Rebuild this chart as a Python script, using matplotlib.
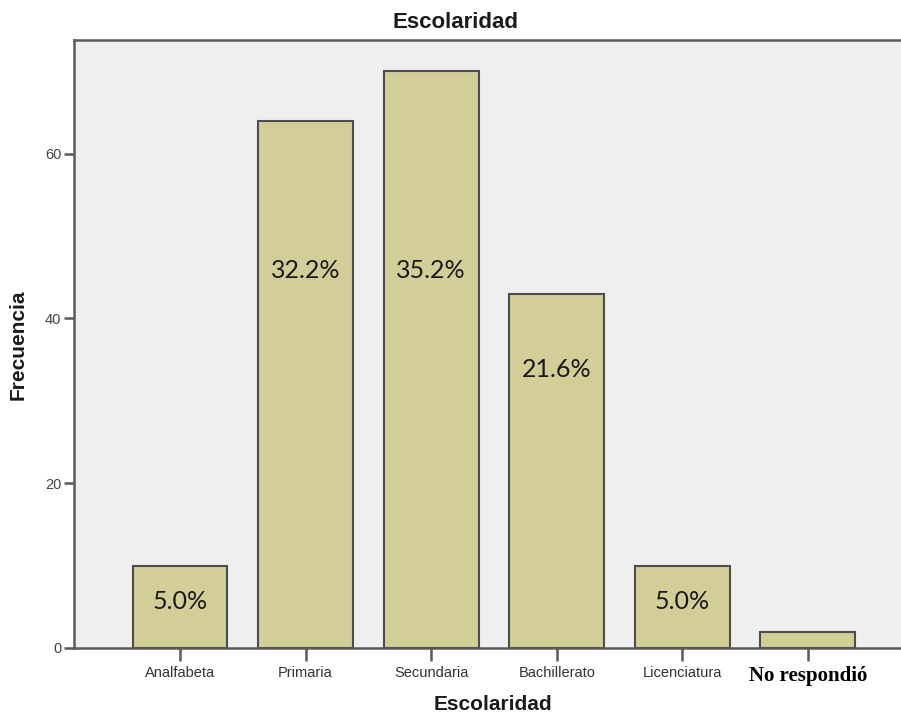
import matplotlib.pyplot as plt
import numpy as np

categorias = ['Analfabeta', 'Primaria', 'Secundaria', 'Bachillerato',
              'Licenciatura', 'No respondió']
frecuencia = [10, 64, 70, 43, 10, 2]
# altura (en unidades del eje) donde va cada porcentaje; None = sin etiqueta
pos_etiqueta = [5.7, 45.8, 45.8, 33.8, 5.7, None]

porcentaje = [round(f / sum(frecuencia) * 100, 1) for f in frecuencia]
x = np.arange(len(categorias))

fig = plt.figure(figsize=(9.01, 7.18), dpi=100)
ax = fig.add_axes([0.0821, 0.0975, 0.9323, 0.8468])
ax.set_facecolor('#efefef')

ax.bar(x, frecuencia, width=0.756, color='#d3ce97', edgecolor='#4d4d4d',
       linewidth=1.5, zorder=2)

for xi, yi, p in zip(x, pos_etiqueta, porcentaje):
    if yi is None:
        continue
    ax.text(xi, yi, '%.1f%%' % p, ha='center', va='center',
            fontsize=18, family='Lato', color='#1a1a1a', zorder=3)

ax.set_xlim(-0.844, 5.844)
ax.set_ylim(0, 73.8)
ax.set_yticks([0, 20, 40, 60])
ax.set_xticks(x)
ax.set_xticklabels(categorias)

for s in ['left', 'top', 'bottom']:
    ax.spines[s].set_color('#5a5a5a')
    ax.spines[s].set_linewidth(1.8)
ax.spines['right'].set_visible(False)

ax.tick_params(axis='y', direction='out', length=7, width=1.8, color='#5a5a5a',
               labelsize=10.5, labelcolor='#444444', pad=2)
ax.tick_params(axis='x', direction='out', length=9, width=1.8, color='#5a5a5a',
               labelsize=10.5, labelcolor='#333333', pad=4)
for lab in ax.get_xticklabels() + ax.get_yticklabels():
    lab.set_family('Liberation Sans')

ultima = ax.get_xticklabels()[-1]
ultima.set_family('Liberation Serif')
ultima.set_fontweight('bold')
ultima.set_fontsize(15)
ultima.set_color('black')

fig.text(456 / 901, 1 - 22 / 718, 'Escolaridad', ha='center', va='center',
         fontsize=16, fontweight='bold', family='Liberation Sans', color='#1a1a1a')
fig.text(493 / 901, 1 - 705 / 718, 'Escolaridad', ha='center', va='center',
         fontsize=15, fontweight='bold', family='Liberation Sans', color='#1a1a1a')
fig.text(18 / 901, 1 - 345 / 718, 'Frecuencia', ha='center', va='center',
         rotation=90, fontsize=15, fontweight='bold', family='Liberation Sans',
         color='#1a1a1a')

fig.savefig('out.png', dpi=100)
